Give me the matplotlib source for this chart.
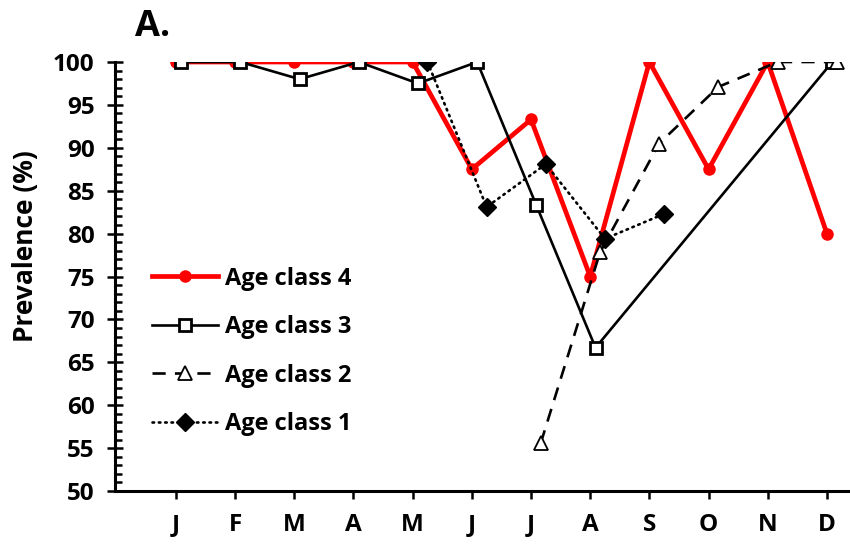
import numpy as np
import matplotlib.pyplot as plt
from matplotlib.ticker import MultipleLocator

plt.rcParams['font.family'] = ['Open Sans', 'DejaVu Sans']
plt.rcParams['font.weight'] = 'bold'

months = ['J', 'F', 'M', 'A', 'M', 'J', 'J', 'A', 'S', 'O', 'N', 'D']

# prevalence (%) by month, NaN = no sample
age4 = [100, 100, 100, 100, 100, 87.5, 93.3, 75.0, 100, 87.5, 100, 80.0]
age3 = [100, 100, 98.0, 100, 97.5, 100, 83.3, 66.7, np.nan, np.nan, np.nan, 100]
age2 = [np.nan, np.nan, np.nan, np.nan, np.nan, np.nan, 55.6, 77.8, 90.5, 97.1, 100, 100]
age1 = [np.nan, np.nan, np.nan, np.nan, 100, 83.1, 88.1, 79.4, 82.3, np.nan, np.nan, np.nan]

x = np.arange(len(months))

fig = plt.figure(figsize=(8.5, 5.46), dpi=100)
ax = fig.add_axes([115/850, 55/546, 735/850, 429/546])

ax.plot(x, age4, color='red', lw=3.4, marker='o', ms=8, label='Age class 4', zorder=3)

# class 3 has a gap Sep-Nov, the line is drawn straight across it
m3 = ~np.isnan(age3)
ax.plot(x[m3] + 0.09, np.array(age3)[m3], color='black', lw=1.9, marker='s', ms=9,
        mfc='white', mec='black', mew=2.0, label='Age class 3', zorder=4)

m2 = ~np.isnan(age2)
ax.plot(x[m2] + 0.165, np.array(age2)[m2], color='black', lw=1.9, ls=(0, (5, 3.5)),
        marker='^', ms=10, mfc='white', mec='black', mew=1.3, label='Age class 2', zorder=5)

m1 = ~np.isnan(age1)
ax.plot(x[m1] + 0.25, np.array(age1)[m1], color='black', lw=1.9, ls=(0, (0.6, 1.8)),
        dash_capstyle='round', marker='D', ms=9, mfc='black', mec='black',
        label='Age class 1', zorder=6)

ax.set_xlim(-1.03, 11.39)
ax.set_ylim(50, 100)
ax.set_xticks(x)
ax.set_xticklabels(months, fontsize=17.5, fontweight='bold')
ax.yaxis.set_major_locator(MultipleLocator(5))
ax.yaxis.set_minor_locator(MultipleLocator(1))
ax.tick_params(axis='y', which='major', direction='inout', length=11.5, width=1.8,
               labelsize=17.5, pad=9)
ax.tick_params(axis='y', which='minor', direction='in', length=5, width=1.8)
ax.tick_params(axis='x', which='major', direction='out', length=6, width=1.8, pad=10)
for lab in ax.get_yticklabels():
    lab.set_fontweight('bold')

for s in ['top', 'right']:
    ax.spines[s].set_visible(False)
for s in ['left', 'bottom']:
    ax.spines[s].set_linewidth(2.2)
ax.spines['left'].set_zorder(10)

ax.set_ylabel('Prevalence (%)', fontsize=19, fontweight='bold')
ax.yaxis.set_label_coords(-0.104, 0.571)

leg = ax.legend(loc='upper left', bbox_to_anchor=(0.037, 0.545), frameon=False,
                fontsize=17, handlelength=2.8, handletextpad=0.3, labelspacing=1.04,
                borderaxespad=0)
for t in leg.get_texts():
    t.set_fontweight('bold')

fig.text(135/850, 1 - 36/546, 'A.', fontsize=26, fontweight='bold', va='baseline')

fig.savefig('out.png', dpi=100)
